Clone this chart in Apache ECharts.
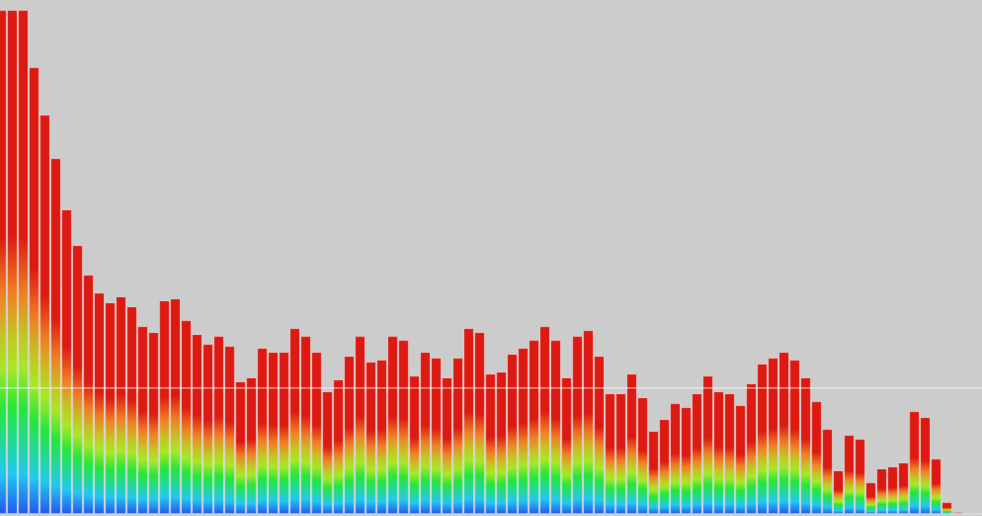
<!DOCTYPE html>
<html>
<head>
<meta charset="utf-8">
<script src="https://cdn.jsdelivr.net/npm/echarts@6/dist/echarts.min.js"></script>
<style>
  html, body { margin: 0; padding: 0; background: #cccccc; overflow: hidden; }
  #chart { width: 989px; height: 516px; margin-left: -4px; }
</style>
</head>
<body>
<div id="chart"></div>
<script>
// frequency bins (spectrum analyser)
const bins = [];
for (let i = 0; i < 91; i++) bins.push(String(i));
// byte magnitudes 0..255
const levels = [
  255, 255, 255, 226, 202, 180, 154, 136, 121, 112,
  107, 110, 105, 95, 92, 108, 109, 98, 91, 86,
  90, 85, 67, 69, 84, 82, 82, 94, 90, 82,
  62, 68, 80, 90, 77, 78, 90, 88, 70, 82,
  79, 69, 79, 94, 92, 71, 72, 81, 84, 88,
  95, 88, 69, 90, 93, 80, 61, 61, 71, 59,
  42, 48, 56, 54, 61, 70, 62, 61, 55, 66,
  76, 79, 82, 78, 69, 57, 43, 22, 40, 38,
  16, 23, 24, 26, 52, 49, 28, 6, 1, 0,
  0
];
const levelMax = 255;
const refLevel = 64;

const chart = echarts.init(document.getElementById('chart'));

// gradient goes red (top) -> blue (bottom), relative to each bar
const barGradient = new echarts.graphic.LinearGradient(0, 0, 0, 1, [
  {offset: 0, color: '#dc1a12'},
  {offset: 0.45, color: '#dc1a12'},
  {offset: 0.56, color: '#f07e24'},
  {offset: 0.645, color: '#c4c424'},
  {offset: 0.71, color: '#a6e826'},
  {offset: 0.79, color: '#26e63a'},
  {offset: 0.86, color: '#22d89a'},
  {offset: 0.92, color: '#22c8f0'},
  {offset: 1, color: '#2456ee'}
]);

chart.setOption({
  backgroundColor: '#cccccc',
  animation: false,
  grid: {left: 0, right: 0, top: 10, bottom: 2},
  xAxis: {
    type: 'category',
    data: bins,
    show: false
  },
  yAxis: {
    type: 'value',
    min: 0,
    max: levelMax,
    show: false,
    splitLine: {show: false}
  },
  series: [{
    type: 'bar',
    data: levels,
    barCategoryGap: '4%',
    itemStyle: {
      color: barGradient,
      borderColor: 'rgba(255,255,255,0.3)',
      borderWidth: 1
    },
    markLine: {
      silent: true,
      symbol: 'none',
      label: {show: false},
      lineStyle: {color: 'rgba(255,255,255,0.4)', width: 2, type: 'solid'},
      data: [{yAxis: refLevel}]
    }
  }]
});
</script>
</body>
</html>
